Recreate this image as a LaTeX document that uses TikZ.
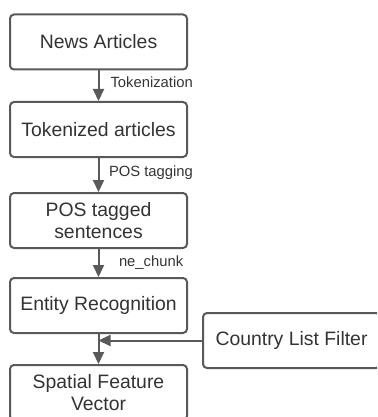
\documentclass[tikz,border=0pt]{standalone}
\usepackage{fontspec}
\setmainfont{Liberation Sans}
\usetikzlibrary{arrows.meta}
\definecolor{edgegray}{HTML}{595959}
\definecolor{textgray}{HTML}{333333}
\begin{document}
\begin{tikzpicture}[x=1pt,y=-1pt,
  stage/.style={draw=edgegray, line width=2pt, rounded corners=4pt, fill=white,
    minimum width=177pt, minimum height=55pt, align=center, text=textgray,
    font=\fontsize{19.4}{22.5}\selectfont, inner sep=0pt},
  flow/.style={draw=edgegray, line width=2pt,
    -{Triangle[width=11pt,length=12pt]}},
  steplabel/.style={text=textgray, font=\fontsize{14.8}{16}\selectfont,
    anchor=west, inner sep=0pt}]
  \useasboundingbox (0,0) rectangle (377,417);
  \clip (0,0) rectangle (377,417);

  % pipeline stages
  \node[stage] (news)    at (98.5,42)    {News Articles};
  \node[stage] (tok)     at (98.5,129.5) {Tokenized articles};
  \node[stage] (pos)     at (98.5,220.5) {POS tagged\\sentences};
  \node[stage] (ent)     at (98.5,305.5) {Entity Recognition};
  \node[stage] (spatial) at (98.5,392.5) {Spatial Feature\\Vector};
  \node[stage] (country) at (291.5,340.5) {Country List Filter};

  % processing steps between stages
  \draw[flow] (news) -- node[steplabel, pos=0.38, xshift=11pt] {Tokenization} (tok);
  \draw[flow] (tok) -- node[steplabel, pos=0.43, xshift=9.5pt] {POS tagging} (pos);
  \draw[flow] (pos) -- node[steplabel, pos=0.5, xshift=19.5pt] {ne\_chunk} (ent);

  % filter merges into the final step
  \coordinate (merge) at (ent.south |- country.west);
  \draw[flow] (ent) -- (spatial);
  \draw[flow] (country) -- (merge);
\end{tikzpicture}
\end{document}
